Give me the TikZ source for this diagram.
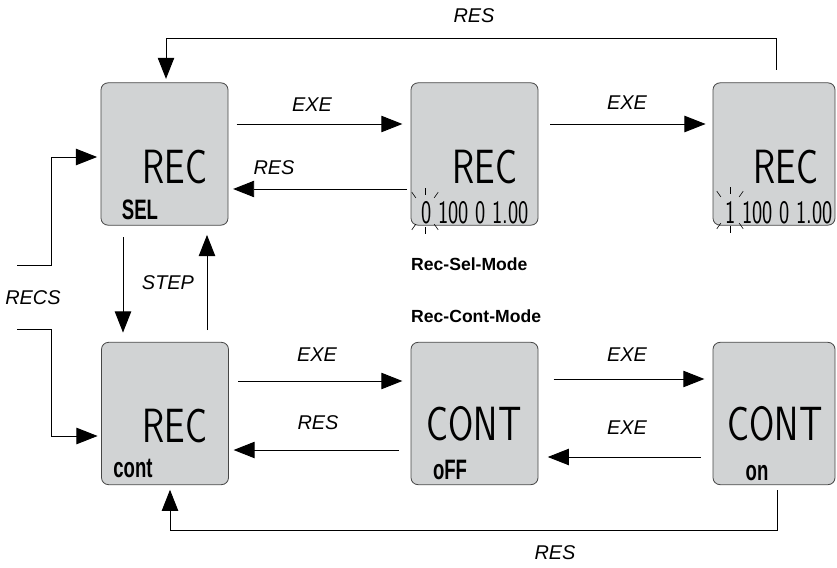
\documentclass[tikz,border=0pt]{standalone}
\usepackage{fontspec}
\setmainfont{Liberation Sans}
\usetikzlibrary{arrows.meta}
\definecolor{lcdgray}{RGB}{209,211,212}
\definecolor{framegray}{RGB}{70,70,70}
\newcommand{\lcdtext}[3]{\scalebox{#3}[1]{\sffamily\fontsize{#1}{#1}\selectfont #2}}
\newcommand{\lcdsmall}[1]{\scalebox{0.66}[1]{\fontsize{24}{24}\selectfont\bfseries #1}}

\begin{document}
\begin{tikzpicture}[x=0.03cm,y=-0.03cm,
  lcd/.style={draw=framegray,line width=0.7pt,fill=lcdgray,rounded corners=6pt,
    minimum width=3.81cm,minimum height=4.27cm,inner sep=0pt},
  lcdnarrow/.style={lcd,minimum width=3.66cm},
  arr/.style={line width=0.8pt,-{Triangle[length=18pt,width=14pt]}},
  lbl/.style={font=\fontsize{17}{20}\selectfont\itshape,inner sep=0pt},
  mode/.style={font=\fontsize{15}{18}\selectfont\bfseries,inner sep=0pt,anchor=west},
  tick/.style={line width=0.5pt}]
  \useasboundingbox (0,0) rectangle (837,568);

  % displays
  \node[lcd] (sel) at (164.5,154) {};
  \node[lcd] (rec0) at (474.5,154) {};
  \node[lcdnarrow] (rec1) at (774,154) {};
  \node[lcd] (cont) at (165,413.5) {};
  \node[lcd] (off) at (474.5,413.5) {};
  \node[lcdnarrow] (on) at (774,413.5) {};

  % display texts
  \node[inner sep=0pt] (selR) at (175,167) {\lcdtext{41}{REC}{0.76}};
  \node[inner sep=0pt] (selS) at (140,210) {\lcdsmall{SEL}};
  \node[inner sep=0pt] (rec0R) at (485,167) {\lcdtext{41}{REC}{0.76}};
  \node[inner sep=0pt] (rec0D) at (475,213) {\lcdtext{28}{0 100 0 1.00}{0.66}};
  \node[inner sep=0pt] (rec1R) at (786,167) {\lcdtext{41}{REC}{0.76}};
  \node[inner sep=0pt] (rec1D) at (779,213) {\lcdtext{28}{1 100 0 1.00}{0.66}};
  \node[inner sep=0pt] (contR) at (175,426) {\lcdtext{41}{REC}{0.76}};
  \node[inner sep=0pt] (contS) at (133,468) {\lcdsmall{cont}};
  \node[inner sep=0pt] (offR) at (474,424) {\lcdtext{41}{CONT}{0.76}};
  \node[inner sep=0pt] (offS) at (450,470) {\lcdsmall{oFF}};
  \node[inner sep=0pt] (onR) at (775,424) {\lcdtext{41}{CONT}{0.76}};
  \node[inner sep=0pt] (onS) at (757,473) {\lcdsmall{on}};

  % blinking first digit
  \coordinate (blinkA) at (425,211);
  \coordinate (blinkB) at (730,210);
  \foreach \b in {blinkA,blinkB}
    \foreach \a in {90,125,55,270,235,305}
      \draw[tick] ([shift={(\a:16)}]\b) -- ([shift={(\a:23)}]\b);

  % top row
  \draw[arr,shorten <=7pt,shorten >=7pt] (sel.east |- 0,124) -- (rec0.west |- 0,124);
  \draw[arr,shorten <=3pt,shorten >=4pt] (rec0.west |- 0,189) -- (sel.east |- 0,189);
  \draw[arr,shorten <=10pt,shorten >=6pt] (rec0.east |- 0,124) -- (rec1.west |- 0,124);
  \node[lbl] (exeA) at (312,105) {EXE};
  \node[lbl] (resA) at (274,168) {RES};
  \node[lbl] (exeB) at (627,103) {EXE};

  % bottom row
  \draw[arr,shorten <=8pt,shorten >=7pt] (cont.east |- 0,381) -- (off.west |- 0,381);
  \draw[arr,shorten <=10pt,shorten >=4pt] (off.west |- 0,450) -- (cont.east |- 0,450);
  \draw[arr,shorten <=13pt,shorten >=7pt] (off.east |- 0,379) -- (on.west |- 0,379);
  \draw[arr,shorten <=10pt,shorten >=8pt] (on.west |- 0,457) -- (off.east |- 0,457);
  \node[lbl] (exeC) at (317,355) {EXE};
  \node[lbl] (resC) at (318,423) {RES};
  \node[lbl] (exeD) at (627,355) {EXE};
  \node[lbl] (exeE) at (627,428) {EXE};

  % step between the modes
  \draw[arr,shorten <=10pt,shorten >=8pt] (sel.south -| 123,0) -- (cont.north -| 123,0);
  \draw[arr,shorten <=10pt,shorten >=8pt] (cont.north -| 207,0) -- (sel.south -| 207,0);
  \node[lbl] (step) at (168,283) {STEP};

  % RECS entries
  \coordinate (recsA) at (17,265);
  \coordinate (recsB) at (17,329);
  \draw[arr,shorten >=3pt] (recsA) -| (51,157) -- (sel.west |- 0,157);
  \draw[arr,shorten >=3pt] (recsB) -| (51,436) -- (cont.west |- 0,436);
  \node[lbl] (recs) at (33,298) {RECS};

  % reset loops
  \coordinate (resTop) at (776,70);
  \coordinate (resBot) at (777,490);
  \draw[arr,shorten >=3pt] (resTop) |- (166,38) -- (sel.north -| 166,0);
  \draw[arr,shorten >=4pt] (resBot) |- (170,530) -- (cont.south -| 170,0);
  \node[lbl] (resT) at (474,16) {RES};
  \node[lbl] (resB) at (555,553) {RES};

  % mode names
  \node[mode] (selMode) at (411,264) {Rec-Sel-Mode};
  \node[mode] (contMode) at (411,316) {Rec-Cont-Mode};
\end{tikzpicture}
\end{document}
